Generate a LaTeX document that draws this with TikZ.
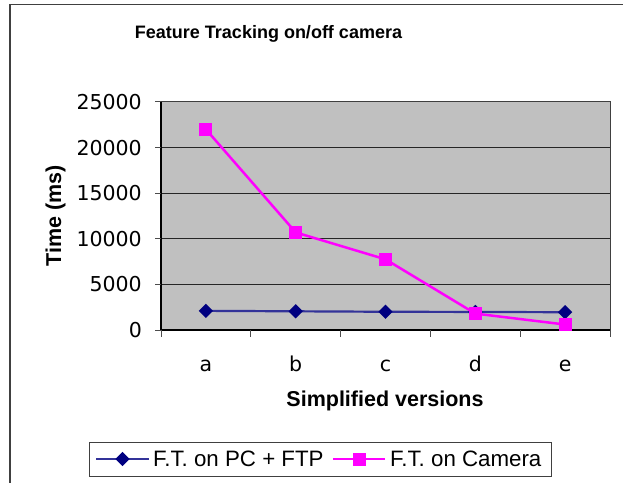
\documentclass[tikz,border=0pt]{standalone}
\usepackage{fontspec}
\setmainfont{Liberation Sans}
\newfontfamily\tickfont{DejaVu Sans}
\usetikzlibrary{shapes.geometric}
\definecolor{plotgray}{HTML}{C0C0C0}
\definecolor{pcline}{HTML}{333399}
\definecolor{pcmark}{HTML}{000080}
\definecolor{camcol}{HTML}{FF00FF}
\definecolor{framegray}{HTML}{404040}
\tikzset{
  pcdot/.style={diamond, fill=pcmark, inner sep=0pt, minimum size=14.5bp},
  camdot/.style={rectangle, fill=camcol, inner sep=0pt, minimum size=13bp},
  ticklabel/.style={font=\tickfont\fontsize{20.5bp}{23bp}\selectfont},
  axistitle/.style={font=\bfseries\fontsize{21.5bp}{24bp}\selectfont},
  legendtext/.style={font=\fontsize{22.3bp}{25bp}\selectfont, anchor=base west, inner sep=0pt}
}
\begin{document}
\begin{tikzpicture}[x=1bp, y=-1bp]
\useasboundingbox (0,0) rectangle (623,483);
\clip (0,0) rectangle (623,483);
% Chart frame
\draw[framegray, line width=1.5bp] (10,4.5) rectangle (640,500);
% Plot area (values in thousands of ms)
\fill[plotgray] (161,102) rectangle (610,330);
\foreach \k in {5,10,15,20}
  \draw[black!85, line width=1bp] (155,330-\k*9.12) -- (610,330-\k*9.12);
\draw[framegray, line width=1bp] (161,102) -- (610,102) -- (610,330);
% Axes
\draw[black, line width=1.8bp] (161,102) -- (161,330) -- (610,330);
\foreach \k/\lab in {0/0,5/5000,10/10000,15/15000,20/20000,25/25000} {
  \draw[black!70, line width=1bp] (155,330-\k*9.12) -- (161,330-\k*9.12);
  \node[ticklabel, anchor=east, inner sep=0pt] (y\k) at (142,330-\k*9.12) {\lab};
}
\foreach \i in {0,...,5}
  \draw[black!70, line width=1bp] (161+\i*89.8,330) -- (161+\i*89.8,337);
\foreach \c [count=\i] in {a,b,c,d,e}
  \node[ticklabel, anchor=base, inner sep=0pt] (x\c) at (161+\i*89.8-44.9,371) {\c};
% Series
\foreach \k [count=\i] in {2.1,2.05,2.0,1.98,1.95}
  \coordinate (pc\i) at (161+\i*89.8-44.9,330-\k*9.12);
\foreach \k [count=\i] in {22.0,10.7,7.75,1.8,0.6}
  \coordinate (cam\i) at (161+\i*89.8-44.9,330-\k*9.12);
\draw[pcline, line width=2.2bp] (pc1) -- (pc2) -- (pc3) -- (pc4) -- (pc5);
\foreach \i in {1,...,5}
  \node[pcdot] (pcm\i) at (pc\i) {};
\draw[camcol, line width=2.5bp] (cam1) -- (cam2) -- (cam3) -- (cam4) -- (cam5);
\foreach \i in {1,...,5}
  \node[camdot] (camm\i) at (cam\i) {};
% Titles
\node[font=\bfseries\fontsize{18bp}{20bp}\selectfont, anchor=base, inner sep=0pt] (title) at (268.5,39) {Feature Tracking on/off camera};
\node[axistitle, anchor=base, inner sep=0pt] (xtitle) at (385,406) {Simplified versions};
\node[axistitle, anchor=base, rotate=90, inner sep=0pt] (ytitle) at (61,216) {Time (ms)};
% Legend
\draw[framegray, fill=white, line width=1bp] (89.5,442) rectangle (551.5,476);
\coordinate (lpcA) at (96,459);
\coordinate (lpcB) at (149,459);
\draw[pcline, line width=2.2bp] (lpcA) -- (lpcB);
\node[pcdot] (lpcm) at (122.5,459) {};
\node[legendtext] (lpc) at (153,466) {F.T. on PC + FTP};
\coordinate (lcamA) at (333,459);
\coordinate (lcamB) at (385,459);
\draw[camcol, line width=2.5bp] (lcamA) -- (lcamB);
\node[camdot] (lcamm) at (359,459) {};
\node[legendtext] (lcam) at (390,466) {F.T. on Camera};
\end{tikzpicture}
\end{document}
